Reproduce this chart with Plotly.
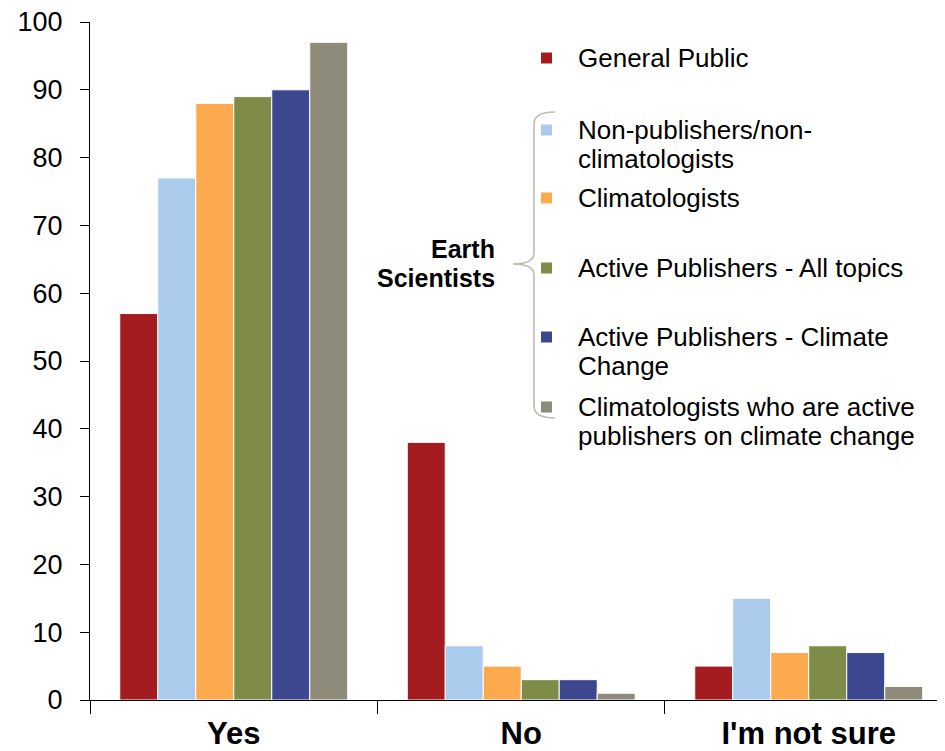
import plotly.graph_objects as go

# answer categories on the x axis
categories = ['Yes', 'No', "I'm not sure"]

# one list of percentages per respondent group
general_public = [57, 38, 5]
non_publishers = [77, 8, 15]
climatologists = [88, 5, 7]
active_all = [89, 3, 8]
active_climate = [90, 3, 7]
clim_active_climate = [97, 1, 2]

series_names = ['General Public',
                'Non-publishers/non-|climatologists',
                'Climatologists',
                'Active Publishers - All topics',
                'Active Publishers - Climate|Change',
                'Climatologists who are active|publishers on climate change']
series_values = [general_public, non_publishers, climatologists,
                 active_all, active_climate, clim_active_climate]
colors = ['#A51C20', '#ABCBED', '#FDAA4F', '#7F8C48', '#3D4790', '#8F8B7B']

# page has an 8px body margin, so the figure is a bit smaller
W, H = 937, 743
L, R, T, B = 82, 0, 14, 51

# page pixel -> paper coords, used for the hand-drawn legend and brace
def px(x):
    return (x - 8 - L) / (W - L - R)

def py(y):
    return (H - B - (y - 8)) / (H - T - B)

fig = go.Figure()
for name, vals, c in zip(series_names, series_values, colors):
    fig.add_bar(x=categories, y=vals, name=name.replace('|', ' '),
                marker=dict(color=c, line=dict(color='white', width=1)))

# legend rows: pixel y of the first text line, swatch sits on it
legend_rows = [58, 130, 198, 268, 337, 407]
line_h = 29
font = 'Liberation Sans, Arial, sans-serif'

shapes = []
annotations = []
for ty, name, c in zip(legend_rows, series_names, colors):
    shapes.append(dict(type='rect', xref='paper', yref='paper',
                       x0=px(541), x1=px(552), y0=py(ty - 5.5), y1=py(ty + 5.5),
                       fillcolor=c, line=dict(width=0)))
    for i, part in enumerate(name.split('|')):
        annotations.append(dict(text=part, xref='paper', yref='paper',
                                x=px(576), y=py(ty + i * line_h), xanchor='left',
                                yanchor='middle', align='left', showarrow=False,
                                font=dict(family=font, size=26, color='black')))

annotations.append(dict(text='<b>Earth</b>', xref='paper', yref='paper',
                        x=px(497), y=py(249), xanchor='right', yanchor='middle',
                        showarrow=False, font=dict(family=font, size=25, color='black')))
annotations.append(dict(text='<b>Scientists</b>', xref='paper', yref='paper',
                        x=px(497), y=py(278), xanchor='right', yanchor='middle',
                        showarrow=False, font=dict(family=font, size=25, color='black')))

# curly brace grouping the earth scientist series
pts = [(555, 112), (534, 112), (534, 124), (534, 253), (534, 264), (513, 264),
       (534, 264), (534, 275), (534, 406), (534, 418), (555, 418)]
p = [(px(a), py(b)) for a, b in pts]
path = ('M {0[0]},{0[1]} Q {1[0]},{1[1]} {2[0]},{2[1]} L {3[0]},{3[1]} '
        'Q {4[0]},{4[1]} {5[0]},{5[1]} Q {6[0]},{6[1]} {7[0]},{7[1]} '
        'L {8[0]},{8[1]} Q {9[0]},{9[1]} {10[0]},{10[1]}').format(*p)
shapes.append(dict(type='path', xref='paper', yref='paper', path=path,
                   line=dict(color='#BDBDB6', width=1.6)))

fig.update_layout(
    width=W, height=H,
    margin=dict(l=L, r=R, t=T, b=B),
    plot_bgcolor='white', paper_bgcolor='white',
    barmode='group', bargap=0.207, bargroupgap=0,
    showlegend=False,
    font=dict(family=font, color='black'),
    shapes=shapes, annotations=annotations,
)
fig.update_xaxes(range=[-0.5, 2.474], showline=True, linecolor='black', linewidth=1,
                 ticks='outside', tickson='boundaries', ticklen=13, tickcolor='black',
                 showgrid=False, automargin=False, ticklabelstandoff=6,
                 ticklabeloverflow='allow', tickfont=dict(size=31, family=font),
                 tickprefix='<b>', ticksuffix='</b>')
fig.update_yaxes(range=[0, 100], dtick=10, showline=True, linecolor='black', linewidth=1,
                 ticks='outside', ticklen=9, tickcolor='black', showgrid=False,
                 zeroline=False, automargin=False, ticklabelstandoff=12,
                 ticklabeloverflow='allow', tickfont=dict(size=27, family=font))

fig.write_html('out.html')
